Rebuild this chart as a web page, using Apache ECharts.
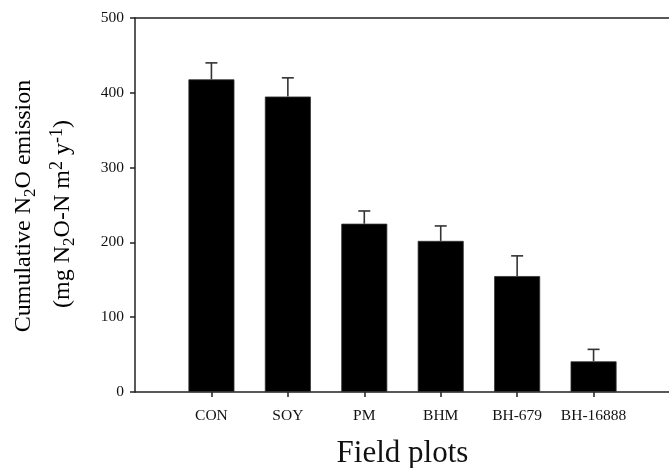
<!DOCTYPE html>
<html>
<head>
<meta charset="utf-8">
<script src="https://cdn.jsdelivr.net/npm/echarts@6/dist/echarts.min.js"></script>
<style>html,body{margin:0;padding:0;background:#fff;}#c{width:669px;height:468px;}</style>
</head>
<body>
<div id="c"></div>
<script>
var categories = ['CON', 'SOY', 'PM', 'BHM', 'BH-679', 'BH-16888'];
var means = [418, 395, 225, 202, 155, 41];
var errors = [22, 25, 17, 20, 27, 16];
var yMin = 0, yMax = 500, yInterval = 100;

var FONT = 'Liberation Serif';
var positions = categories.map(function (c, i) { return i + 1; });
var barData = positions.map(function (p, i) { return [p, means[i]]; });
var errData = positions.map(function (p, i) { return [p, means[i], means[i] + errors[i]]; });

var chart = echarts.init(document.getElementById('c'), null, {renderer: 'canvas'});
var axisColor = '#222';
var main = {fontFamily: FONT, fontSize: 24, lineHeight: 30, color: '#111', verticalAlign: 'middle'};
var sub = {fontFamily: FONT, fontSize: 17, lineHeight: 30, color: '#111', verticalAlign: 'bottom'};
var sup = {fontFamily: FONT, fontSize: 18, lineHeight: 30, color: '#111', verticalAlign: 'top'};

chart.setOption({
  animation: false,
  backgroundColor: '#fff',
  grid: {left: 135, right: -1, top: 18, bottom: 76, containLabel: false, outerBoundsMode: 'none'},
  xAxis: [{
    type: 'value', min: 0, max: categories.length + 1, interval: 1,
    position: 'bottom',
    axisLine: {show: true, lineStyle: {color: axisColor, width: 1.5}},
    axisTick: {show: true, length: 5, lineStyle: {color: axisColor, width: 1.5}, customValues: positions},
    axisLabel: {show: true, customValues: positions, margin: 16, fontFamily: FONT, fontSize: 15.5, color: '#111',
      formatter: function (v) { return categories[Math.round(v) - 1] || ''; }},
    splitLine: {show: false},
    name: 'Field plots', nameLocation: 'middle', nameGap: 46,
    nameTextStyle: {fontFamily: FONT, fontSize: 31, color: '#111'}
  }, {
    type: 'value', min: 0, max: categories.length + 1, position: 'top',
    axisLine: {show: true, lineStyle: {color: axisColor, width: 1.5}},
    axisTick: {show: false}, axisLabel: {show: false}, splitLine: {show: false}
  }],
  yAxis: {
    type: 'value', min: yMin, max: yMax, interval: yInterval,
    axisLine: {show: true, lineStyle: {color: axisColor, width: 1.5}},
    axisTick: {show: true, length: 5, lineStyle: {color: axisColor, width: 1.5}},
    axisLabel: {margin: 11, fontFamily: FONT, fontSize: 15.5, color: '#111'},
    splitLine: {show: false}
  },
  graphic: [{
    type: 'text', x: 24, y: 206, rotation: Math.PI / 2, silent: true,
    style: {text: '{a|Cumulative N}{s|2}{a|O emission}', align: 'center', verticalAlign: 'middle',
      rich: {a: main, s: sub}}
  }, {
    type: 'text', x: 63, y: 214, rotation: Math.PI / 2, silent: true,
    style: {text: '{a|(mg N}{s|2}{a|O-N m}{p|2}{a| y}{p|-1}{a|)}', align: 'center', verticalAlign: 'middle',
      rich: {a: main, s: sub, p: sup}}
  }],
  series: [{
    type: 'bar', data: barData, barWidth: 46,
    itemStyle: {color: '#000', borderColor: '#333', borderWidth: 0.8},
    z: 2
  }, {
    type: 'custom', data: errData, z: 3,
    encode: {x: 0, y: [1, 2]},
    renderItem: function (params, api) {
      var x = api.value(0);
      var p0 = api.coord([x, api.value(1)]);
      var p1 = api.coord([x, api.value(2)]);
      var half = 6;
      var st = {stroke: '#333', lineWidth: 1.6};
      return {type: 'group', children: [
        {type: 'line', shape: {x1: p0[0], y1: p0[1], x2: p1[0], y2: p1[1]}, style: st},
        {type: 'line', shape: {x1: p1[0] - half, y1: p1[1], x2: p1[0] + half, y2: p1[1]}, style: st}
      ]};
    }
  }]
});
</script>
</body>
</html>
